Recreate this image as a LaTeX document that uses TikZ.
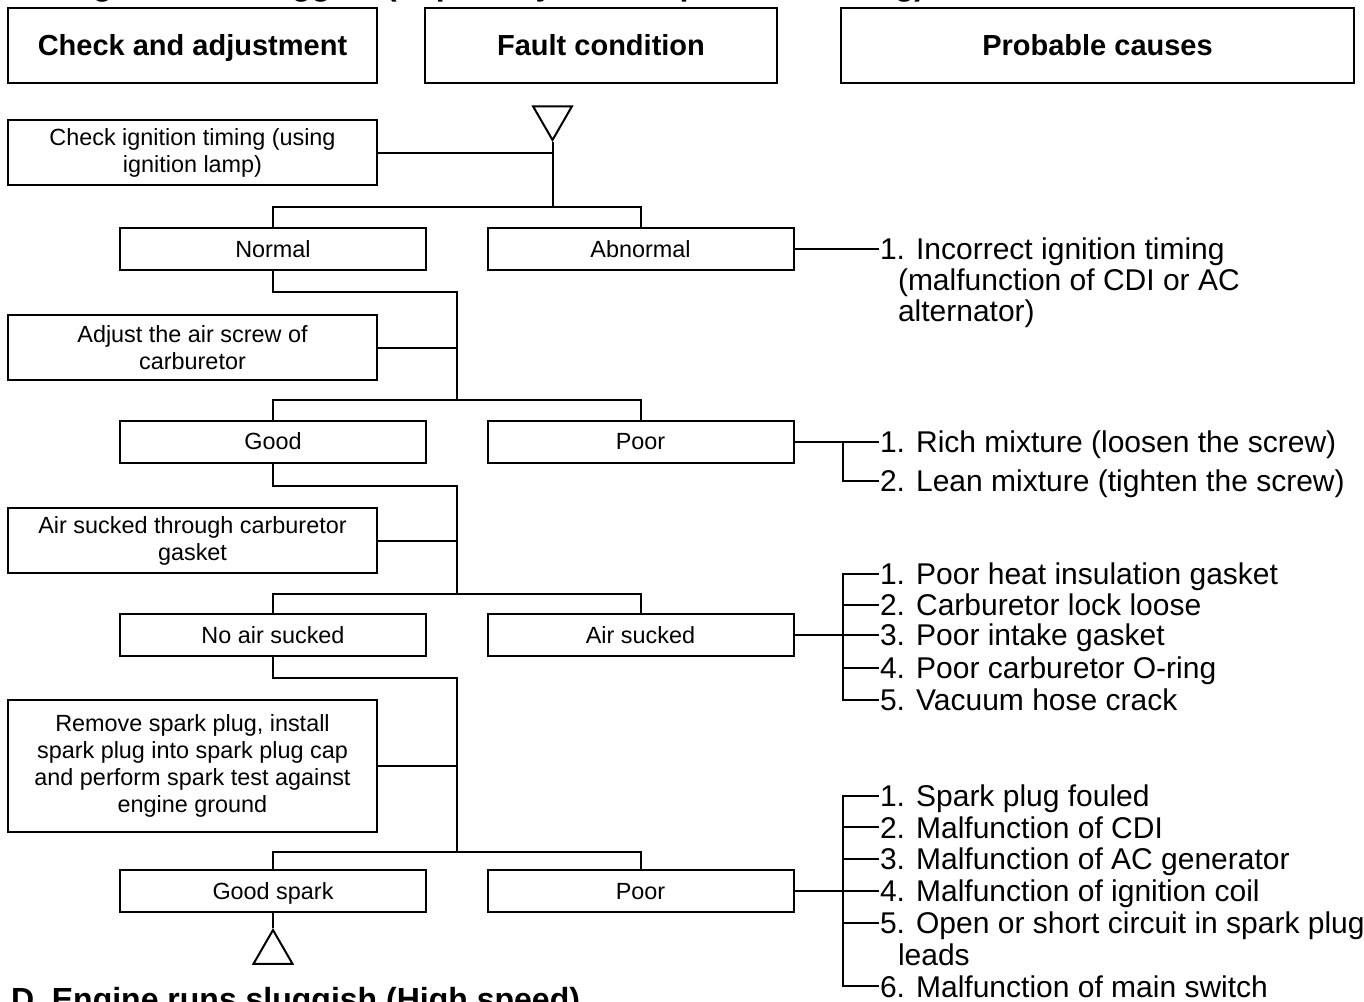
\documentclass[tikz,border=0pt]{standalone}
\usepackage{fontspec}
\setmainfont{Liberation Sans}
\usetikzlibrary{shapes.geometric,calc}

\begin{document}
\begin{tikzpicture}[
    x=0.5pt, y=-0.5pt,
    line width=1pt,
    header/.style={
        draw,
        minimum height=37.5pt,
        inner sep=0pt,
        text height=10.4pt,
        text depth=0pt,
        font=\fontsize{14.5}{17}\selectfont\bfseries
    },
    check/.style={
        draw,
        align=center,
        minimum width=184.5pt,
        inner sep=0pt,
        font=\fontsize{11.7}{13.5}\selectfont
    },
    result/.style={
        draw,
        minimum width=153pt,
        minimum height=21pt,
        inner sep=0pt,
        text height=8.4pt,
        text depth=0pt,
        font=\fontsize{11.7}{13.5}\selectfont
    },
    cause/.style={
        anchor=west,
        inner sep=0pt,
        text height=10.7pt,
        text depth=0pt,
        font=\fontsize{15}{16}\selectfont
    },
    title/.style={
        anchor=base west,
        inner sep=0pt,
        font=\fontsize{16}{18}\selectfont\bfseries
    },
    marker/.style={
        draw,
        regular polygon,
        regular polygon sides=3,
        minimum size=22.5pt,
        inner sep=0pt
    }
]
\useasboundingbox (0,0) rectangle (1364,1001);
\clip (0,0) rectangle (1364,1001);

% ---- Titles (cut by the page) ----
\node[title] (titleC) at (10,-4) {C. Engine runs sluggish (Especially in low speed and idling)};
\node[title] (titleD) at (10,1010) {D. Engine runs sluggish (High speed)};

% ---- Column headers ----
\node[header, minimum width=184.5pt] (hcheck) at (192.5,45.5) {Check and adjustment};
\node[header, minimum width=176pt] (hfault) at (601,45.5) {Fault condition};
\node[header, minimum width=256.5pt] (hcause) at (1097.5,45.5) {Probable causes};

% ---- Checks ----
\node[marker, shape border rotate=180] (start) at (552.5,117.5) {};
\node[check, minimum height=32.5pt] (timing) at (192.5,152.5) {Check ignition timing (using\\ignition lamp)};
\node[check, minimum height=32.5pt] (airscrew) at (192.5,347.5) {Adjust the air screw of\\carburetor};
\node[check, minimum height=32.5pt] (gasket) at (192.5,540.5) {Air sucked through carburetor\\gasket};
\node[check, minimum height=66pt] (sparktest) at (192.5,766) {Remove spark plug, install\\spark plug into spark plug cap\\and perform spark test against\\engine ground};

% ---- Results ----
\node[result] (normal) at (273,249) {Normal};
\node[result] (abnormal) at (640.5,249) {Abnormal};
\node[result] (good) at (273,441.5) {Good};
\node[result] (poor) at (640.5,441.5) {Poor};
\node[result] (noair) at (273,635) {No air sucked};
\node[result] (airsucked) at (640.5,635) {Air sucked};
\node[result] (goodspark) at (273,891) {Good spark};
\node[result] (nospark) at (640.5,891) {Poor};
\node[marker] (next) at (273,952.5) {};

% ---- Causes ----
\node[cause] (timing1) at (879,249) {1. Incorrect ignition timing};
\node[cause] (timing1b) at (879,280) {\hspace*{9pt}(malfunction of CDI or AC};
\node[cause] (timing1c) at (879,311) {\hspace*{9pt}alternator)};

\node[cause] (rich) at (879,441.5) {1. Rich mixture (loosen the screw)};
\node[cause] (lean) at (879,481) {2. Lean mixture (tighten the screw)};

\node[cause] (leak1) at (879,574) {1. Poor heat insulation gasket};
\node[cause] (leak2) at (879,604.5) {2. Carburetor lock loose};
\node[cause] (leak3) at (879,635) {3. Poor intake gasket};
\node[cause] (leak4) at (879,667.5) {4. Poor carburetor O-ring};
\node[cause] (leak5) at (879,700) {5. Vacuum hose crack};

\node[cause] (spark1) at (879,795.6) {1. Spark plug fouled};
\node[cause] (spark2) at (879,827.4) {2. Malfunction of CDI};
\node[cause] (spark3) at (879,859.2) {3. Malfunction of AC generator};
\node[cause] (spark4) at (879,891) {4. Malfunction of ignition coil};
\node[cause] (spark5) at (879,922.8) {5. Open or short circuit in spark plug};
\node[cause] (spark5b) at (879,954.6) {\hspace*{9pt}leads};
\node[cause] (spark6) at (879,986.4) {6. Malfunction of main switch};

% ---- Junctions ----
\coordinate (j1) at (552.5,207);
\coordinate (k1) at (457,292);
\coordinate (j2) at (457,400);
\coordinate (k2) at (457,486);
\coordinate (j3) at (457,594);
\coordinate (k3) at (457,678);
\coordinate (j4) at (457,852);
\coordinate (b2) at (843,441.5);
\coordinate (b3) at (843,635);
\coordinate (b4) at (843,891);

% ---- Connections ----
\draw (start.south) -- (j1);
\draw (timing.east) -- (timing.east -| start.south);
\draw (normal.north) |- (j1) -| (abnormal.north);
\draw (abnormal.east) -- (timing1.west);

\draw (normal.south) |- (k1) -- (j2);
\draw (airscrew.east) -- (airscrew.east -| j2);
\draw (good.north) |- (j2) -| (poor.north);
\draw (poor.east) -- (rich.west);
\draw (b2) |- (lean.west);

\draw (good.south) |- (k2) -- (j3);
\draw (gasket.east) -- (gasket.east -| j3);
\draw (noair.north) |- (j3) -| (airsucked.north);
\draw (airsucked.east) -- (leak3.west);
\draw (leak1.west) -| (b3) |- (leak5.west);
\draw (b3 |- leak2.west) -- (leak2.west);
\draw (b3 |- leak4.west) -- (leak4.west);

\draw (noair.south) |- (k3) -- (j4);
\draw (sparktest.east) -- (sparktest.east -| j4);
\draw (goodspark.north) |- (j4) -| (nospark.north);
\draw (goodspark.south) -- (next.north);
\draw (nospark.east) -- (spark4.west);
\draw (spark1.west) -| (b4) |- (spark6.west);
\draw (b4 |- spark2.west) -- (spark2.west);
\draw (b4 |- spark3.west) -- (spark3.west);
\draw (b4 |- spark5.west) -- (spark5.west);

\end{tikzpicture}
\end{document}
